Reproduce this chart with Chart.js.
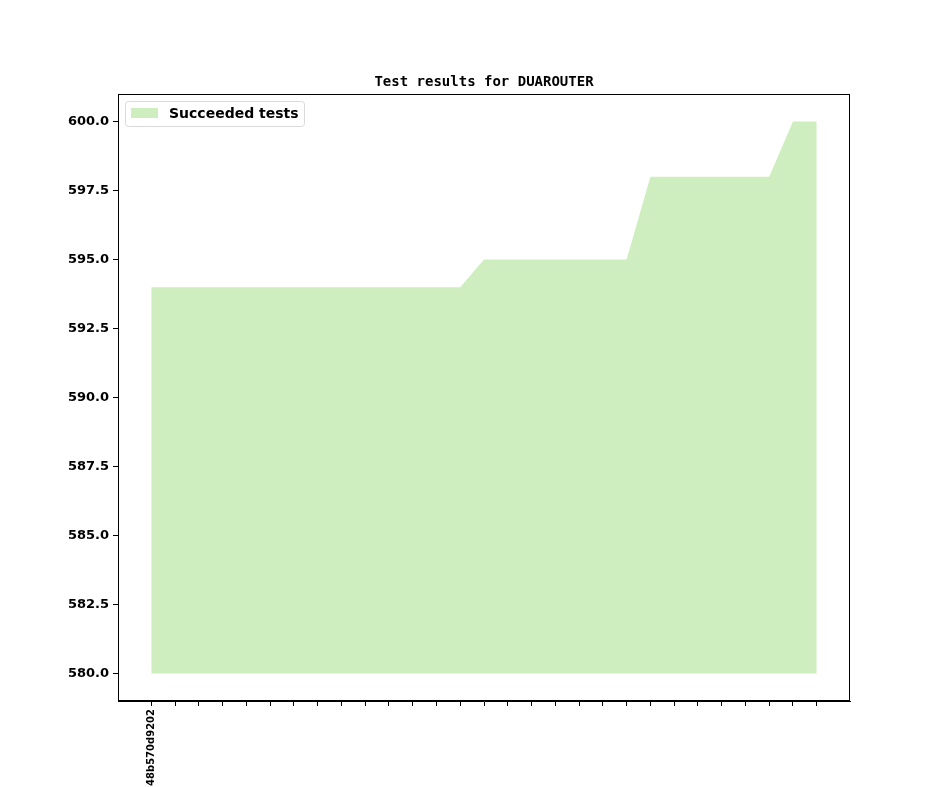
<!DOCTYPE html>
<html>
<head>
<meta charset="utf-8">
<script src="https://cdn.jsdelivr.net/npm/chart.js@4"></script>
<style>
  html, body { margin: 0; padding: 0; background: #fff; }
  #wrap { width: 944px; height: 787px; }
</style>
</head>
<body>
<div id="wrap"><canvas id="myChart" width="944" height="787"></canvas></div>
<script>
// test run index along the x axis, commit labels (only the first is printed)
const runIndex = [0, 1, 2, 3, 4, 5, 6, 7, 8, 9, 10, 11, 12, 13, 14, 15, 16, 17, 18, 19, 20, 21, 22, 23, 24, 25, 26, 27, 28];
const commitLabels = ["48b570d9202"];
const succeeded = [594, 594, 594, 594, 594, 594, 594, 594, 594, 594, 594, 594, 594, 594,
  595, 595, 595, 595, 595, 595, 595, 598, 598, 598, 598, 598, 598, 600, 600];
const yTicks = [580, 582.5, 585, 587.5, 590, 592.5, 595, 597.5, 600];
const baseline = 580;

const FILL = "#cfeebf";
const FONT = "'DejaVu Sans', sans-serif";

const framePlugin = {
  id: "frame",
  afterDraw(chart) {
    const { ctx, chartArea: a } = chart;
    ctx.save();
    ctx.strokeStyle = "#000";
    ctx.lineWidth = 1;
    ctx.strokeRect(a.left + 0.5, a.top + 0.5, a.right - a.left - 1, a.bottom - a.top - 1);

    // title
    ctx.fillStyle = "#000";
    ctx.font = "bold 14px 'DejaVu Sans Mono', monospace";
    ctx.textAlign = "center";
    ctx.textBaseline = "middle";
    ctx.fillText("Test results for DUAROUTER", (a.left + a.right) / 2, 82);

    // legend
    const lx = a.left + 7, ly = a.top + 7, lw = 179, lh = 25;
    ctx.beginPath();
    ctx.roundRect(lx + 0.5, ly + 0.5, lw, lh, 3);
    ctx.fillStyle = "rgba(255,255,255,0.8)";
    ctx.fill();
    ctx.strokeStyle = "#d9d9d9";
    ctx.stroke();
    ctx.fillStyle = FILL;
    ctx.fillRect(lx + 6, ly + 7, 27, 10);
    ctx.fillStyle = "#000";
    ctx.font = "bold 14px " + FONT;
    ctx.textAlign = "left";
    ctx.fillText("Succeeded tests", lx + 44, ly + 13);
    ctx.restore();
  }
};

const config = {
  type: "line",
  data: {
    datasets: [
      {
        label: "Succeeded tests",
        data: runIndex.map((x, i) => ({ x: x, y: succeeded[i] })),
        backgroundColor: FILL,
        borderWidth: 0,
        pointRadius: 0,
        tension: 0,
        fill: { value: baseline },
      },
    ],
  },
  options: {
    responsive: false,
    animation: false,
    devicePixelRatio: 1,
    layout: { padding: { top: 94, right: 94, left: 0, bottom: 0 } },
    plugins: {
      legend: { display: false },
      title: { display: false },
      tooltip: { enabled: false },
    },
    scales: {
      x: {
        type: "linear",
        min: -1.4,
        max: 29.4,
        afterBuildTicks: (s) => { s.ticks = runIndex.map((v) => ({ value: v })); },
        afterFit: (s) => { s.height = 86; },
        grid: { drawOnChartArea: false, drawTicks: true, tickLength: 5, color: "#000" },
        border: { display: true, color: "#000" },
        ticks: {
          autoSkip: false,
          minRotation: 90,
          maxRotation: 90,
          padding: 3,
          color: "#000",
          font: { family: FONT, weight: "bold", size: 10 },
          callback: (v) => commitLabels[v] || "",
        },
      },
      y: {
        min: 579,
        max: 601,
        afterBuildTicks: (s) => { s.ticks = yTicks.map((v) => ({ value: v })); },
        afterFit: (s) => { s.width = 118; },
        grid: { drawOnChartArea: false, drawTicks: true, tickLength: 5, color: "#000" },
        border: { display: true, color: "#000" },
        ticks: {
          padding: 4,
          color: "#000",
          font: { family: FONT, weight: "bold", size: 13 },
          callback: (v) => Number(v).toFixed(1),
        },
      },
    },
  },
  plugins: [framePlugin],
};

new Chart(document.getElementById("myChart"), config);
</script>
</body>
</html>
